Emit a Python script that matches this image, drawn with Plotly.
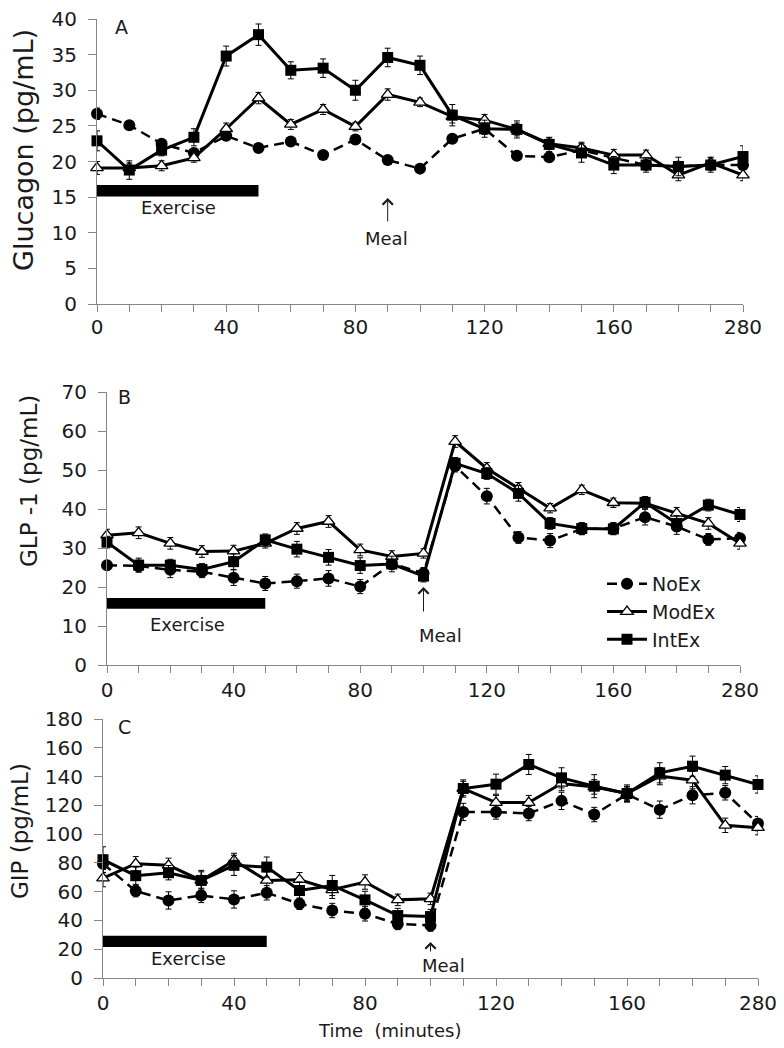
import plotly.graph_objects as go

W, H = 784, 1048          # target picture size
OFF = 8                   # default page margin around the plot div
FW, FH = W - OFF, H - OFF  # figure size so that the picture matches the window
FONT = "DejaVu Sans"

# ---------------- data ----------------
times = [0, 10, 20, 30, 40, 50, 60, 70, 80, 90, 100, 110, 120, 130, 140, 150, 160, 170, 180, 270, 280]
tick_labels = ["0", "40", "80", "120", "160", "280"]
label_idx = [0, 4, 8, 12, 16, 20]
series_names = ["NoEx", "ModEx", "IntEx"]

noex_glu = [26.7, 25.1, 22.5, 21.2, 23.6, 21.9, 22.8, 20.9, 23.1, 20.2, 19.0, 23.2, 24.6, 20.8, 20.6, 21.6, 20.5, 19.5, 19.3, 19.5, 19.5]
modex_glu = [19.1, 19.1, 19.4, 20.5, 24.6, 28.9, 25.2, 27.3, 24.9, 29.4, 28.3, 26.3, 25.8, 24.5, 22.5, 21.9, 20.9, 20.9, 18.1, 19.8, 18.1]
intex_glu = [22.9, 18.8, 21.6, 23.4, 34.8, 37.8, 32.8, 33.1, 30.0, 34.6, 33.5, 26.5, 24.6, 24.5, 22.4, 21.2, 19.5, 19.5, 19.3, 19.5, 20.7]
noex_glu_err = [0.8, 0.5, 0.6, 0.5, 0.6, 0.5, 0.5, 0.5, 0.6, 0.5, 0.5, 0.6, 0.8, 0.5, 0.5, 0.6, 0.6, 0.5, 0.6, 0.5, 0.6]
modex_glu_err = [0.9, 0.7, 0.7, 0.6, 0.8, 0.8, 0.7, 0.7, 0.6, 0.8, 0.6, 0.9, 0.8, 0.9, 0.8, 0.8, 0.8, 0.7, 0.8, 0.8, 0.8]
intex_glu_err = [1.4, 1.3, 0.8, 1.2, 1.4, 1.5, 1.2, 1.3, 1.4, 1.3, 1.3, 1.5, 1.2, 1.2, 1.0, 1.3, 1.2, 1.0, 1.3, 1.0, 1.5]

noex_glp = [25.6, 25.4, 24.4, 23.9, 22.4, 20.9, 21.5, 22.2, 20.1, 26.0, 23.5, 51.0, 43.3, 32.7, 31.9, 34.9, 35.0, 37.9, 35.5, 32.2, 32.5]
modex_glp = [33.3, 33.9, 31.2, 29.1, 29.2, 31.2, 35.0, 36.8, 29.5, 27.8, 28.6, 57.3, 50.4, 45.3, 40.2, 44.9, 41.6, 41.5, 38.9, 36.3, 31.2]
intex_glp = [31.5, 25.6, 25.6, 24.5, 26.5, 32.1, 29.7, 27.6, 25.5, 25.9, 22.8, 51.7, 49.1, 44.0, 36.3, 35.0, 34.9, 41.7, 36.3, 41.0, 38.6]
noex_glp_err = [1.2, 1.5, 2.0, 1.5, 2.0, 1.8, 1.8, 2.0, 1.8, 1.5, 1.5, 1.5, 2.0, 1.5, 1.8, 1.5, 1.5, 2.0, 2.0, 1.5, 1.5]
modex_glp_err = [1.5, 1.5, 1.5, 1.5, 1.5, 1.2, 1.5, 1.5, 1.5, 1.5, 1.2, 1.5, 1.5, 1.5, 1.2, 1.2, 1.2, 1.2, 1.5, 1.5, 1.5]
intex_glp_err = [1.5, 1.8, 1.5, 1.5, 2.0, 1.5, 2.0, 2.0, 2.0, 2.0, 1.5, 1.5, 1.5, 2.0, 1.5, 1.5, 1.5, 1.5, 2.0, 1.5, 1.8]

noex_gip = [79.4, 60.4, 53.9, 57.4, 54.6, 59.2, 51.6, 46.9, 44.6, 37.6, 36.5, 115.4, 115.4, 114.3, 123.1, 113.6, 127.7, 117.0, 127.0, 128.7, 107.3]
modex_gip = [69.4, 79.4, 78.3, 67.8, 81.7, 67.8, 68.3, 61.3, 66.7, 54.3, 55.0, 131.7, 121.9, 121.9, 135.2, 132.8, 128.2, 140.3, 137.5, 106.1, 104.5]
intex_gip = [82.2, 71.1, 73.2, 67.8, 78.3, 77.1, 60.8, 64.3, 54.3, 43.4, 42.7, 131.7, 134.7, 148.4, 139.1, 133.3, 128.2, 142.6, 147.2, 141.0, 134.5]
noex_gip_err = [6, 4, 6, 5, 6, 5, 4, 5, 5, 4, 4, 6, 5, 5, 6, 5, 5, 6, 6, 5, 5]
modex_gip_err = [6, 5, 5, 6, 5, 6, 5, 6, 5, 4, 4, 5, 5, 5, 5, 5, 5, 6, 6, 5, 5]
intex_gip_err = [9, 6, 5, 7, 7, 7, 6, 7, 6, 5, 5, 6, 7, 7, 7, 8, 6, 7, 7, 6, 6]

panel_letters = ["A", "B", "C"]
y_titles = ["Glucagon (pg/mL)", "GLP -1 (pg/mL)", "GIP (pg/mL)"]
x_title = "Time\u00a0 (minutes)"

# ---------------- helpers ----------------
def px(x):
    return (x - OFF) / FW

def py(y):
    return 1 - (y - OFF) / FH

cats = [str(t) for t in times]
ticktext = [tick_labels[label_idx.index(i)] if i in label_idx else "" for i in range(len(times))]

AXC = "#868686"
TXT = "#1a1a1a"

panels = [
    dict(data=(noex_glu, modex_glu, intex_glu), err=(noex_glu_err, modex_glu_err, intex_glu_err),
         xd=[px(97), px(743)], yd=[py(304), py(19)], yr=[0, 40], dt=5, xso=-2),
    dict(data=(noex_glp, modex_glp, intex_glp), err=(noex_glp_err, modex_glp_err, intex_glp_err),
         xd=[px(107), px(740)], yd=[py(665), py(392)], yr=[0, 70], dt=10, xso=0),
    dict(data=(noex_gip, modex_gip, intex_gip), err=(noex_gip_err, modex_gip_err, intex_gip_err),
         xd=[px(103), px(758)], yd=[py(978), py(719)], yr=[0, 180], dt=20, xso=0),
]

styles = [
    dict(line=dict(color="black", width=2.5, dash="10px,6px"),
         marker=dict(symbol="circle", size=12, color="black", line=dict(width=0))),
    dict(line=dict(color="black", width=3),
         marker=dict(symbol="triangle-up", size=11, color="white", line=dict(color="black", width=1.3))),
    dict(line=dict(color="black", width=3),
         marker=dict(symbol="square", size=11, color="black", line=dict(width=0))),
]

fig = go.Figure()
layout = {}
for p, panel in enumerate(panels):
    sfx = "" if p == 0 else str(p + 1)
    xa, ya = "x" + sfx, "y" + sfx
    for s in range(3):
        fig.add_trace(go.Scatter(
            x=cats, y=panel["data"][s], xaxis=xa, yaxis=ya,
            mode="lines+markers", name=series_names[s],
            legendgroup=series_names[s], showlegend=(p == 1),
            line=styles[s]["line"], marker=styles[s]["marker"],
            error_y=dict(type="data", array=panel["err"][s], color="black", thickness=1, width=3),
            cliponaxis=False,
        ))
    layout["xaxis" + sfx] = dict(
        domain=panel["xd"], anchor=ya, type="category", range=[0, len(times) - 1],
        tickmode="array", tickvals=cats, ticktext=ticktext,
        ticks="outside", ticklen=7, tickcolor=AXC, tickwidth=1,
        showline=True, linecolor=AXC, linewidth=1, showgrid=False, zeroline=False,
        tickfont=dict(family=FONT, size=20, color=TXT), automargin=False,
        ticklabelstandoff=panel["xso"], ticklabeloverflow="allow",
    )
    layout["yaxis" + sfx] = dict(
        domain=panel["yd"], anchor=xa, range=panel["yr"], dtick=panel["dt"],
        ticks="outside", ticklen=8, tickcolor=AXC, tickwidth=1,
        showline=True, linecolor=AXC, linewidth=1, showgrid=False, zeroline=False,
        tickfont=dict(family=FONT, size=20, color=TXT), ticklabelstandoff=7, automargin=False,
        ticklabeloverflow="allow",
    )

fig.update_layout(**layout)

# exercise bars (data coordinates of each panel)
bars = [("x", "y", 15.1, 16.7), ("x2", "y2", 14.4, 17.2), ("x3", "y3", 21.6, 29.3)]
for xr, yr, y0, y1 in bars:
    fig.add_shape(type="rect", xref=xr, yref=yr, x0=0, x1=5, y0=y0, y1=y1,
                  fillcolor="black", line=dict(width=0))

def label(text, x, y, size, angle=0):
    return dict(text=text, x=px(x), y=py(y), xref="paper", yref="paper", showarrow=False,
                xanchor="center", yanchor="middle", textangle=angle,
                font=dict(family=FONT, size=size, color=TXT))

ann = []
for letter, (x, y) in zip(panel_letters, [(121, 27), (124, 397), (124, 727)]):
    ann.append(label(letter, x, y, 19))
for t, (x, y, s) in zip(y_titles, [(24, 150, 27), (29, 481, 23), (20, 831, 23)]):
    ann.append(label(t, x, y, s, -90))
ann.append(label(x_title, 389, 1030, 18))
for (x, y) in [(178, 208), (187, 624), (188, 958)]:
    ann.append(label("Exercise", x, y, 18))
for (x, y) in [(386, 238), (440, 635), (443, 965)]:
    ann.append(label("Meal", x, y, 18))
for xr, idx, yhead, ylen in [("x", 9, 198, 25), ("x2", 10, 587, 26), ("x3", 10, 942, 11)]:
    ann.append(dict(text="", x=idx, y=py(yhead), xref=xr, yref="paper", showarrow=True,
                    ax=0, ay=ylen, arrowhead=4, arrowsize=2, arrowwidth=1, arrowcolor=TXT))

fig.update_layout(
    annotations=ann,
    width=FW, height=FH,
    margin=dict(l=0, r=0, t=0, b=0, pad=0, autoexpand=False),
    paper_bgcolor="white", plot_bgcolor="white",
    showlegend=True,
    legend=dict(x=px(602), y=py(565), xanchor="left", yanchor="top",
                font=dict(family=FONT, size=19, color=TXT), bgcolor="rgba(0,0,0,0)",
                itemwidth=40, tracegroupgap=0),
)

fig.write_html("out.html")
